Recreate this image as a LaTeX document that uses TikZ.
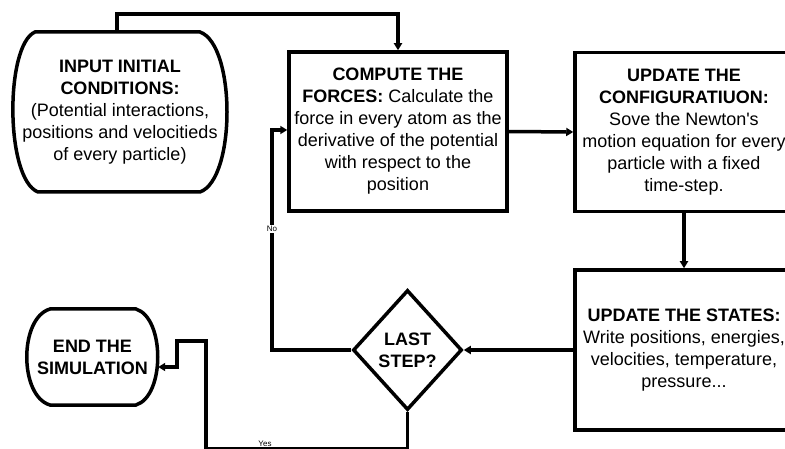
\documentclass[tikz,border=0pt]{standalone}
\usepackage{fontspec}
\setmainfont{Liberation Sans}
\usetikzlibrary{arrows.meta,shapes.geometric,calc}
\begin{document}
\begin{tikzpicture}[x=1pt,y=-1pt,
  txt/.style={font=\fontsize{18}{22}\selectfont, align=center, inner sep=0pt},
  boxnode/.style={txt, draw, line width=3.5pt, minimum width=218pt, minimum height=159pt},
  conn/.style={line width=3.5pt, -{Triangle[length=7pt,width=8pt]}},
  outline/.style={line width=3.5pt},
  lbl/.style={font=\fontsize{8}{9}\selectfont, fill=white, inner sep=1pt}]
\useasboundingbox (0,0) rectangle (785,449);
\clip (0,0) rectangle (785,449);

% input (stadium)
\node[txt, minimum width=214pt, minimum height=160pt] (in) at (120,112)
  {\textbf{INPUT INITIAL}\\\textbf{CONDITIONS:}\\(Potential interactions,\\positions and velocitieds\\of every particle)};
\draw[outline] (35,32) -- (200,32) .. controls (236,45) and (236,179) .. (200,192)
  -- (38,192) .. controls (5,179) and (5,45) .. (35,32) -- cycle;

% compute
\node[boxnode] (comp) at (398,131.5)
  {\textbf{COMPUTE THE}\\\textbf{FORCES:} Calculate the\\force in every atom as the\\derivative of the potential\\with respect to the\\position};

% update configuration
\node[boxnode] (conf) at (684,132)
  {\textbf{UPDATE THE}\\\textbf{CONFIGURATIUON:}\\Sove the Newton\textquotesingle s\\motion equation for every\\particle with a fixed\\time-step.};

% update states
\node[boxnode, minimum height=160pt] (states) at (684,350)
  {\textbf{UPDATE THE STATES:}\\Write positions, energies,\\velocities, temperature,\\pressure...};

% diamond
\node[txt, shape=diamond, draw, line width=3.5pt, minimum width=109pt, minimum height=120pt] (dia) at (407.5,350)
  {\textbf{LAST}\\\textbf{STEP?}};

% end (stadium)
\node[txt, minimum width=131pt, minimum height=96pt] (end) at (92.5,357)
  {\textbf{END THE}\\\textbf{SIMULATION}};
\draw[outline] (50,309) -- (136,309) .. controls (165,318) and (165,396) .. (136,405)
  -- (50,405) .. controls (19,396) and (19,318) .. (50,309) -- cycle;

% connectors
\draw[conn] ([xshift=-3pt]in.north) -- ++(0,-18) -| (comp.north);
\draw[conn] (comp.east) -- (conf.west);
\draw[conn] (conf.south) -- (states.north);
\draw[conn] (states.west) -- (dia.east);

\coordinate (nocorner) at (272,350);
\draw[conn] (dia.west) -- (nocorner) |- ([yshift=1.5pt]comp.west);
\node[lbl] (nolbl) at (272,229) {No};

\coordinate (y1) at (407.5,448.5);
\coordinate (y2) at (206,448.5);
\coordinate (y3) at (206,341);
\coordinate (y4) at (177,341);
\coordinate (y5) at (177,367);
\draw[conn] (dia.south) -- (y1) -- (y2) -- (y3) -- (y4) -- (y5) -- (y5 -| end.east);
\node[lbl] (yeslbl) at (265,443.5) {Yes};
\end{tikzpicture}
\end{document}
